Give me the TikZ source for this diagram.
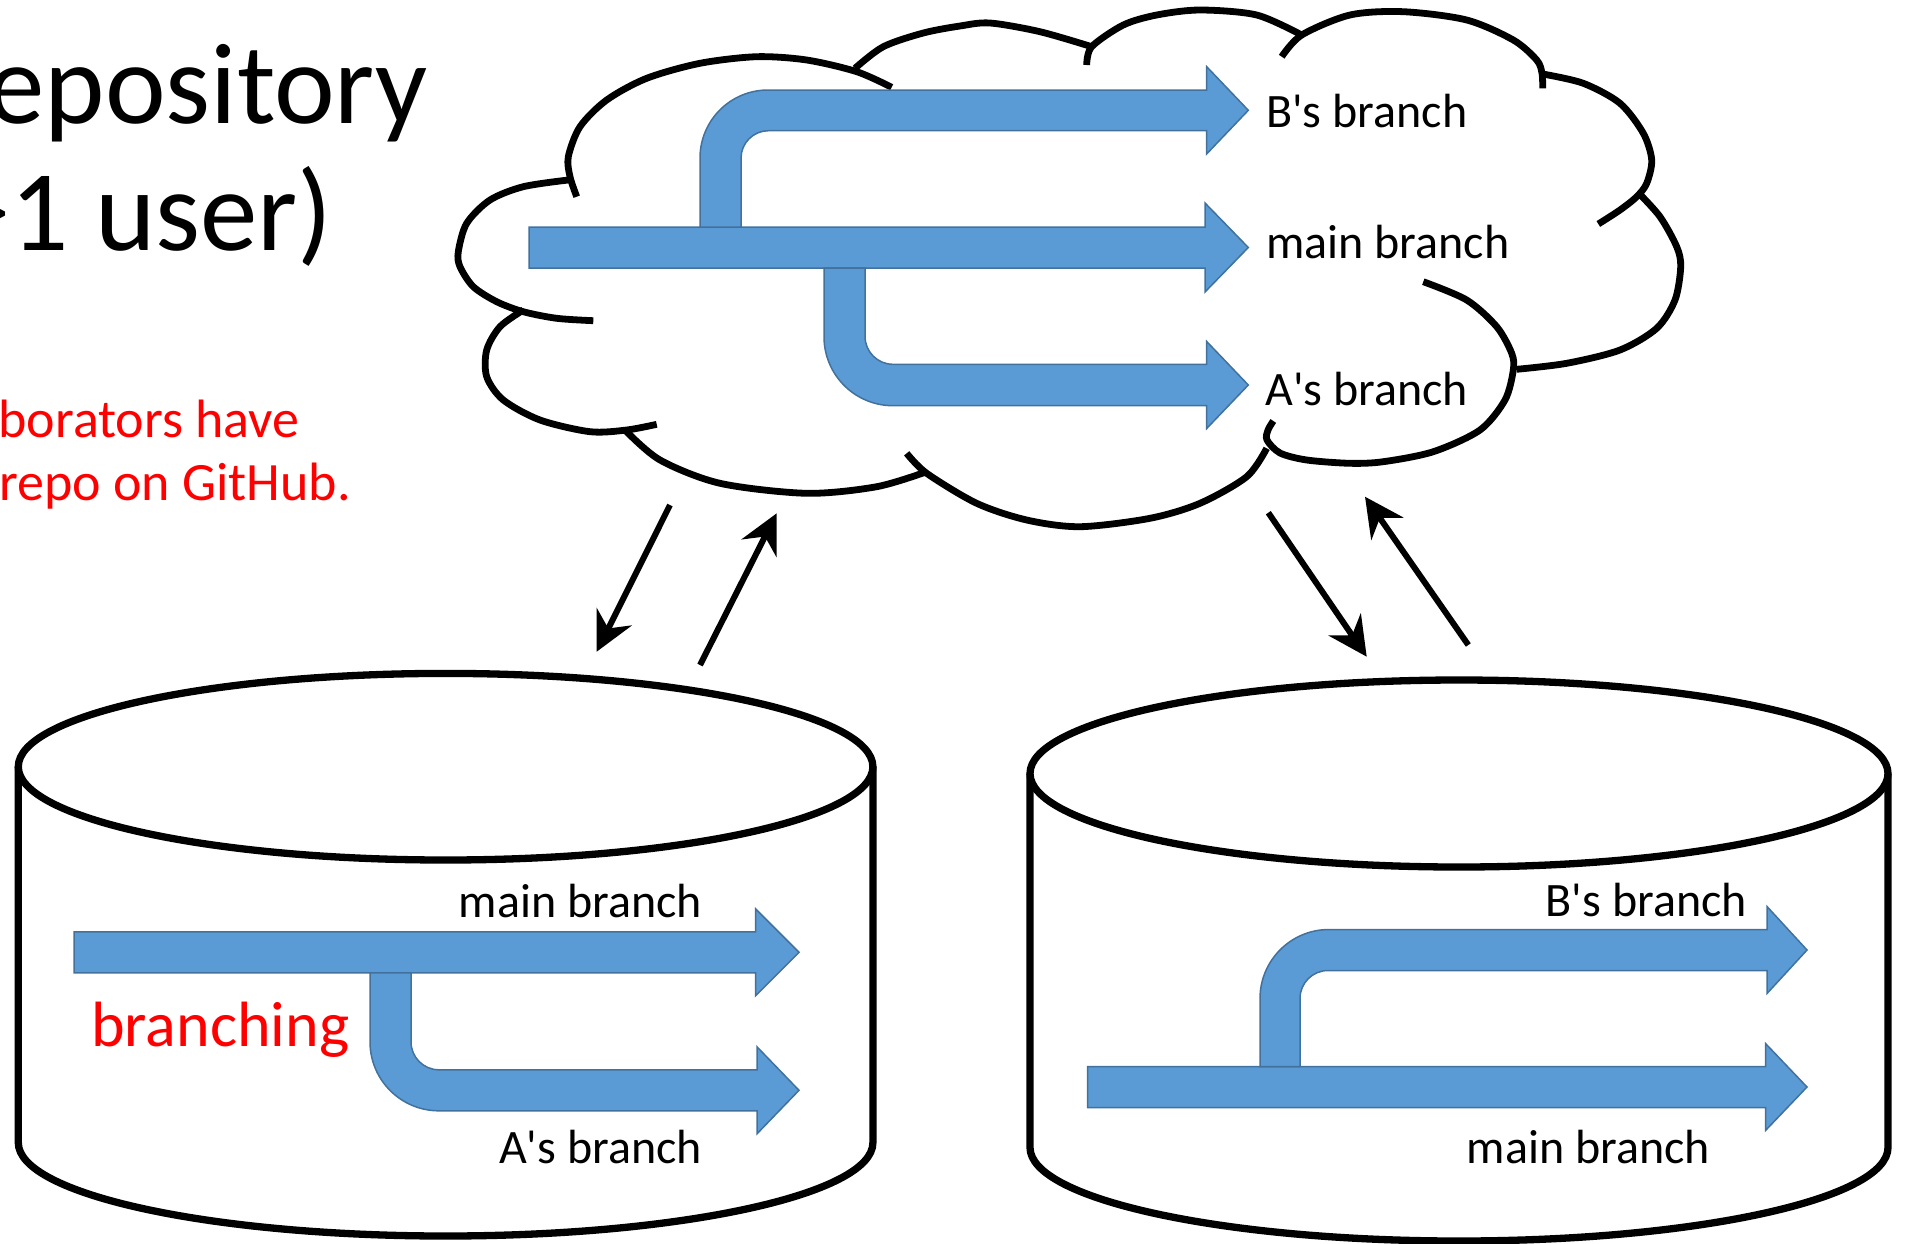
\documentclass[tikz,border=0pt]{standalone}
\usepackage{fontspec}
\setmainfont{Carlito}
\usetikzlibrary{arrows.meta}
\definecolor{arrowblue}{HTML}{5B9BD5}
\definecolor{arrowedge}{HTML}{41719C}
\definecolor{notered}{HTML}{FF0000}
\tikzset{
  blockarrow/.style = {
    fill=arrowblue,
    draw=arrowedge,
    line width=1.5pt
  },
  cloudline/.style = {line width=6.8pt},
  cylline/.style = {line width=7.3pt, line join=round},
  syncarrow/.style = {
    line width=6pt,
    -{Stealth[length=39pt, width=39pt, inset=13pt]}
  },
  branchlabel/.style = {inner sep=0pt, font=\fontsize{48}{58}\selectfont},
  redlabel/.style = {inner sep=0pt, text=notered, font=\fontsize{64}{77}\selectfont},
  titletext/.style = {inner sep=0pt, font=\fontsize{115}{138}\selectfont},
  notetext/.style = {inner sep=0pt, text=notered, font=\fontsize{54}{65}\selectfont}
}

\begin{document}
\begin{tikzpicture}[x=1pt, y=-1pt]
  \useasboundingbox (0,0) rectangle (1906,1243);
  \clip (0,0) rectangle (1906,1243);

  % title and note, cut by the left edge
  \node[titletext, anchor=base east] (title1) at (428,123.5) {Repository};
  \node[titletext, anchor=base east] (title2) at (333,250.5) {(>1 user)};
  \node[notetext, anchor=base east] (note1) at (300,437.6) {Collaborators have};
  \node[notetext, anchor=base east] (note2) at (351,500.8) {repo on GitHub.};

  % cloud (remote)
  \draw[cloudline] plot[smooth] coordinates {(568.3,180) (523.3,186.7) (490,200) (466.7,223.3) (458.3,251.7) (460,266.7) (473.3,286.7) (496.7,301.7) (523.3,311.7) (556.7,318.3) (593.3,320.7)};
  \draw[cloudline] plot[smooth] coordinates {(576.7,196.7) (570,176.7) (568.3,156.7) (580,126.7) (606.7,100) (646.7,78.3) (700,63.3) (756.7,56.7) (806.7,60) (856.7,71.7) (891.7,87.3)};
  \draw[cloudline] plot[smooth] coordinates {(855,68.3) (883.3,46.7) (923.3,33) (960,26) (990,23) (1040,31.7) (1091.7,46.7)};
  \draw[cloudline] plot[smooth] coordinates {(1086.7,65) (1091.7,46.7) (1123.3,25) (1156.7,15) (1200,10) (1256.7,15) (1301.7,35)};
  \draw[cloudline] plot[smooth] coordinates {(1281.7,56.7) (1301.7,35) (1350,15) (1403.3,11.7) (1466.7,20) (1513.3,40) (1536.7,60) (1542,73.3) (1542.7,88.3)};
  \draw[cloudline] plot[smooth] coordinates {(1542.7,74) (1583.3,83.3) (1620,103.3) (1643.3,133.3) (1651.7,160) (1646.7,183.3) (1636.7,196.7) (1620,210) (1598.3,224)};
  \draw[cloudline] plot[smooth] coordinates {(1638.3,192.7) (1660,216.7) (1676.7,246.7) (1680.7,266.7) (1675,300) (1656.7,328.3) (1620,350) (1566.7,363.3) (1516.7,369.3)};
  \draw[cloudline] plot[smooth] coordinates {(1423.3,281.7) (1466.7,300) (1496.7,326.7) (1511.7,353.3) (1513.3,370) (1505,400) (1480,430) (1433.3,451.7) (1383.3,461.7) (1350,463.3) (1306.7,460) (1280,453) (1267,440) (1268,430) (1273.3,421)};
  \draw[cloudline] plot[smooth] coordinates {(906.7,453.3) (926.7,473.3) (976.7,503.3) (1026.7,520) (1080,526.7) (1150,518.3) (1200,503.3) (1246.7,476.7) (1266.7,448.3)};
  \draw[cloudline] plot[smooth] coordinates {(625,430) (660,460) (720,483.3) (806.7,493.3) (876.7,486.7) (926.7,471.7)};
  \draw[cloudline] plot[smooth] coordinates {(523.3,310) (500,326.7) (486.7,350) (486.7,376.7) (503.3,400) (540,420) (590,431.7) (626.7,430) (656.7,424.3)};

  \draw[blockarrow] (529,227) -- (1205,227) -- (1205,203) -- (1248.3,247.5) -- (1205,292) -- (1205,268) -- (529,268) -- cycle;
  \draw[blockarrow] (700,227) -- (700,158) arc[start angle=180, end angle=270, radius=68] -- (1206.7,90) -- (1206.7,66.7) -- (1248.3,110.3) -- (1206.7,153.9) -- (1206.7,130.7) -- (768.5,130.7) arc[start angle=270, end angle=180, radius=27.5] -- (741,227) -- cycle;
  \draw[blockarrow] (824,268) -- (824,336.7) arc[start angle=180, end angle=90, radius=69] -- (1206.7,405.7) -- (1206.7,428.5) -- (1248.3,385) -- (1206.7,341.5) -- (1206.7,364.3) -- (893,364.3) arc[start angle=90, end angle=180, radius=28] -- (865,268) -- cycle;

  \node[branchlabel, anchor=base west] (cloudB) at (1266,127.3) {B\textquotesingle s branch};
  \node[branchlabel, anchor=base west] (cloudmain) at (1266,258.3) {main branch};
  \node[branchlabel, anchor=base west] (cloudA) at (1265,405) {A\textquotesingle s branch};

  % local repo of A
  \draw[cylline] (445.6,766.7) ellipse[x radius=427.3, y radius=93.3];
  \draw[cylline] (18.3,766.7) -- (18.3,1142.7) arc[start angle=180, end angle=0, x radius=427.3, y radius=93.3] -- (873,766.7);
  \draw[blockarrow] (74,931.8) -- (755.5,931.8) -- (755.5,908.8) -- (799,952.3) -- (755.5,995.8) -- (755.5,972.8) -- (74,972.8) -- cycle;
  \draw[blockarrow] (370,972.8) -- (370,1041.8) arc[start angle=180, end angle=90, radius=69] -- (757,1110.8) -- (757,1133.8) -- (799,1090.3) -- (757,1046.8) -- (757,1069.8) -- (439,1069.8) arc[start angle=90, end angle=180, radius=28] -- (411,972.8) -- cycle;
  \node[branchlabel, anchor=base east] (leftmain) at (702,917) {main branch};
  \node[branchlabel, anchor=base east] (leftA) at (702,1163) {A\textquotesingle s branch};
  \node[redlabel, anchor=base west] (branching) at (91,1046.7) {branching};

  % local repo of B
  \draw[cylline] (1459,773.5) ellipse[x radius=429, y radius=93.5];
  \draw[cylline] (1030,773.5) -- (1030,1147.5) arc[start angle=180, end angle=0, x radius=429, y radius=93.5] -- (1888,773.5);
  \draw[blockarrow] (1087.7,1066.5) -- (1765.5,1066.5) -- (1765.5,1043.5) -- (1807,1087) -- (1765.5,1130.5) -- (1765.5,1107.5) -- (1087.7,1107.5) -- cycle;
  \draw[blockarrow] (1260,1066.5) -- (1260,998.5) arc[start angle=180, end angle=270, radius=69] -- (1767,929.5) -- (1767,906.5) -- (1807,950) -- (1767,993.5) -- (1767,970.5) -- (1328,970.5) arc[start angle=270, end angle=180, radius=28] -- (1300,1066.5) -- cycle;
  \node[branchlabel, anchor=base east] (rightB) at (1747,916) {B\textquotesingle s branch};
  \node[branchlabel, anchor=base east] (rightmain) at (1710,1163) {main branch};

  % pull and push
  \coordinate (leftpullstart) at (670,505);
  \coordinate (leftpullend) at (596.7,651.7);
  \coordinate (leftpushstart) at (700,665);
  \coordinate (leftpushend) at (776.7,513.3);
  \coordinate (rightpullstart) at (1268.3,512.7);
  \coordinate (rightpullend) at (1366.7,656.7);
  \coordinate (rightpushstart) at (1468.3,645);
  \coordinate (rightpushend) at (1365,496.7);
  \draw[syncarrow] (leftpullstart) -- (leftpullend);
  \draw[syncarrow] (leftpushstart) -- (leftpushend);
  \draw[syncarrow] (rightpullstart) -- (rightpullend);
  \draw[syncarrow] (rightpushstart) -- (rightpushend);
\end{tikzpicture}
\end{document}
